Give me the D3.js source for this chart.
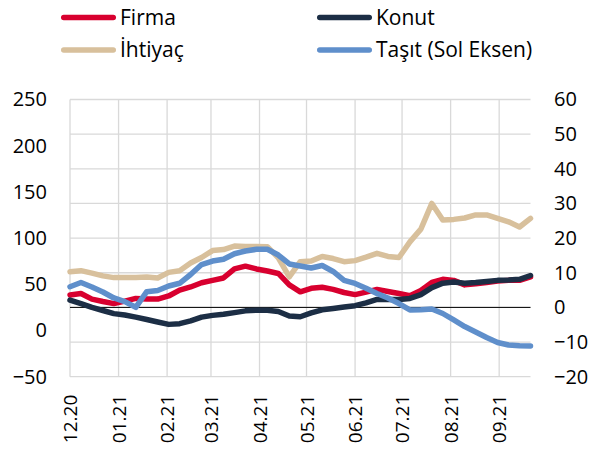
<!DOCTYPE html>
<html lang="tr">
	<head>
		<meta charset="utf-8">
		<title>Kredi büyümesi</title>
		<script src="https://d3js.org/d3.v7.min.js"></script>
		<style>
			body { margin: 0; background: #fff; }
			text { font-family: "Open Sans", sans-serif; fill: #000; }
		</style>
	</head>
	<body>
		<script type="text/javascript">

			// Data: weekly, first week 04.12.2020
			var startDate = new Date(2020, 11, 4);
			var weeks = 43;

			var firma = [3.6, 4.0, 2.4, 1.7, 1.1, 1.8, 2.6, 2.4, 2.4, 3.3, 5.0, 5.9, 7.1, 7.8, 8.5, 11.1, 11.9, 11.1, 10.5, 9.8,
				6.5, 4.5, 5.5, 5.8, 5.2, 4.3, 3.7, 4.4, 5.2, 4.6, 4.0, 3.4, 4.9, 7.2, 8.1, 7.8, 6.5, 6.8, 7.2, 7.6, 7.8, 7.8, 8.8];
			var konut = [2.1, 1.1, 0.0, -0.9, -1.8, -2.2, -2.8, -3.5, -4.2, -4.9, -4.7, -3.9, -2.8, -2.3, -2.0, -1.5, -1.0, -0.8, -0.8, -1.2,
				-2.5, -2.7, -1.6, -0.7, -0.3, 0.1, 0.5, 1.3, 2.3, 2.3, 2.3, 2.6, 3.7, 5.7, 7.0, 7.3, 7.0, 7.2, 7.5, 7.8, 7.9, 8.1, 9.2];
			var ihtiyac = [10.3, 10.6, 9.9, 9.1, 8.6, 8.6, 8.6, 8.8, 8.5, 10.1, 10.6, 12.8, 14.4, 16.4, 16.7, 17.7, 17.6, 17.6, 17.5, 14.3,
				8.8, 13.2, 13.4, 14.7, 14.1, 13.2, 13.5, 14.5, 15.6, 14.7, 14.4, 18.9, 22.6, 30.0, 25.2, 25.4, 25.8, 26.7, 26.7, 25.7, 24.7, 23.2, 25.7];
			// Taşıt is read on the left axis
			var tasit = [47.4, 51.9, 47.1, 41.7, 35.2, 31.2, 25.1, 42.0, 43.3, 48.2, 51.1, 60.6, 71.4, 75.2, 77.2, 83.1, 86.0, 87.9, 87.9, 81.7,
				72.0, 69.8, 67.6, 70.3, 63.9, 54.3, 50.9, 45.7, 40.0, 35.2, 29.2, 22.2, 22.4, 23.3, 18.4, 11.4, 4.3, -1.6, -7.6, -13.0, -15.7, -16.6, -16.8];

			var monthLabels = ["12.20", "01.21", "02.21", "03.21", "04.21", "05.21", "06.21", "07.21", "08.21", "09.21"];
			var leftTicks = [-50, 0, 50, 100, 150, 200, 250];
			var rightTicks = [-20, -10, 0, 10, 20, 30, 40, 50, 60];

			var series = [
				{name: "Firma", values: firma, axis: "right", color: "#d8002f"},
				{name: "Konut", values: konut, axis: "right", color: "#1c2e45"},
				{name: "İhtiyaç", values: ihtiyac, axis: "right", color: "#d8c09c"},
				{name: "Taşıt (Sol Eksen)", values: tasit, axis: "left", color: "#5f8fcb"}
			];

			//Width and height
			var w = 605;
			var h = 449;
			var margin = {top: 99.5, right: 74.5, bottom: 72.3, left: 70};

			var dates = d3.range(weeks).map(i => d3.timeDay.offset(startDate, i * 7));

			var x = d3.scaleTime()
				.domain([dates[0], dates[dates.length - 1]])
				.range([margin.left, w - margin.right]);
			var yLeft = d3.scaleLinear()
				.domain([-50, 250])
				.range([h - margin.bottom, margin.top]);
			var yRight = d3.scaleLinear()
				.domain([-20, 60])
				.range([h - margin.bottom, margin.top]);

			var svg = d3.select("body")
				.append("svg")
				.attr("width", w)
				.attr("height", h);

			// Grid
			var grid = svg.append("g").attr("stroke", "#d9d9d9").attr("stroke-width", 1.3);
			grid.selectAll("line.h")
				.data(rightTicks)
				.enter()
				.append("line")
				.attr("x1", margin.left)
				.attr("x2", w - margin.right)
				.attr("y1", d => yRight(d))
				.attr("y2", d => yRight(d));

			var tickDates = monthLabels.map((d, i) => d3.timeMonth.offset(startDate, i));
			grid.selectAll("line.v")
				.data(tickDates)
				.enter()
				.append("line")
				.attr("x1", d => x(d))
				.attr("x2", d => x(d))
				.attr("y1", margin.top)
				.attr("y2", h - margin.bottom);

			// zero line
			svg.append("line")
				.attr("x1", margin.left)
				.attr("x2", w - margin.right)
				.attr("y1", yRight(0))
				.attr("y2", yRight(0))
				.attr("stroke", "#000")
				.attr("stroke-width", 1);

			// Axes
			var leftAxis = svg.append("g")
				.attr("transform", "translate(" + margin.left + ",0)")
				.call(d3.axisLeft(yLeft).tickValues(leftTicks).tickSize(0).tickPadding(23));
			var rightAxis = svg.append("g")
				.attr("transform", "translate(" + (w - margin.right) + ",0)")
				.call(d3.axisRight(yRight).tickValues(rightTicks).tickSize(0).tickPadding(23.5));
			var bottomAxis = svg.append("g")
				.attr("transform", "translate(0," + (h - margin.bottom) + ")")
				.call(d3.axisBottom(x).tickValues(tickDates).tickSize(0).tickFormat((d, i) => monthLabels[i]));

			svg.selectAll(".domain").remove();
			leftAxis.selectAll("text").attr("font-size", 20).attr("font-family", null);
			rightAxis.selectAll("text").attr("font-size", 20).attr("font-family", null);
			bottomAxis.selectAll("text")
				.attr("font-size", 19)
				.attr("font-family", null)
				.attr("text-anchor", "end")
				.attr("transform", "rotate(-90)")
				.attr("x", -18)
				.attr("y", 0)
				.attr("dy", "0.35em");

			// Lines
			var line = function(s) {
				var yScale = s.axis === "left" ? yLeft : yRight;
				return d3.line()
					.x((d, i) => x(dates[i]))
					.y(d => yScale(d))(s.values);
			};

			svg.selectAll("path.series")
				.data(series)
				.enter()
				.append("path")
				.attr("class", "series")
				.attr("d", d => line(d))
				.attr("fill", "none")
				.attr("stroke", d => d.color)
				.attr("stroke-width", 5.5)
				.attr("stroke-linejoin", "round")
				.attr("stroke-linecap", "round");

			// Legend
			var legendPos = [[61, 17.5], [317, 17.5], [61, 50], [317, 50]];
			var legend = svg.selectAll("g.legend")
				.data(series)
				.enter()
				.append("g")
				.attr("class", "legend")
				.attr("transform", (d, i) => "translate(" + legendPos[i][0] + "," + legendPos[i][1] + ")");
			legend.append("line")
				.attr("x1", 2.75)
				.attr("x2", 52.25)
				.attr("stroke", d => d.color)
				.attr("stroke-width", 5.5)
				.attr("stroke-linecap", "round");
			legend.append("text")
				.attr("x", 59)
				.attr("dy", "0.35em")
				.attr("font-size", 21)
				.text(d => d.name);

		</script>
	</body>
</html>
